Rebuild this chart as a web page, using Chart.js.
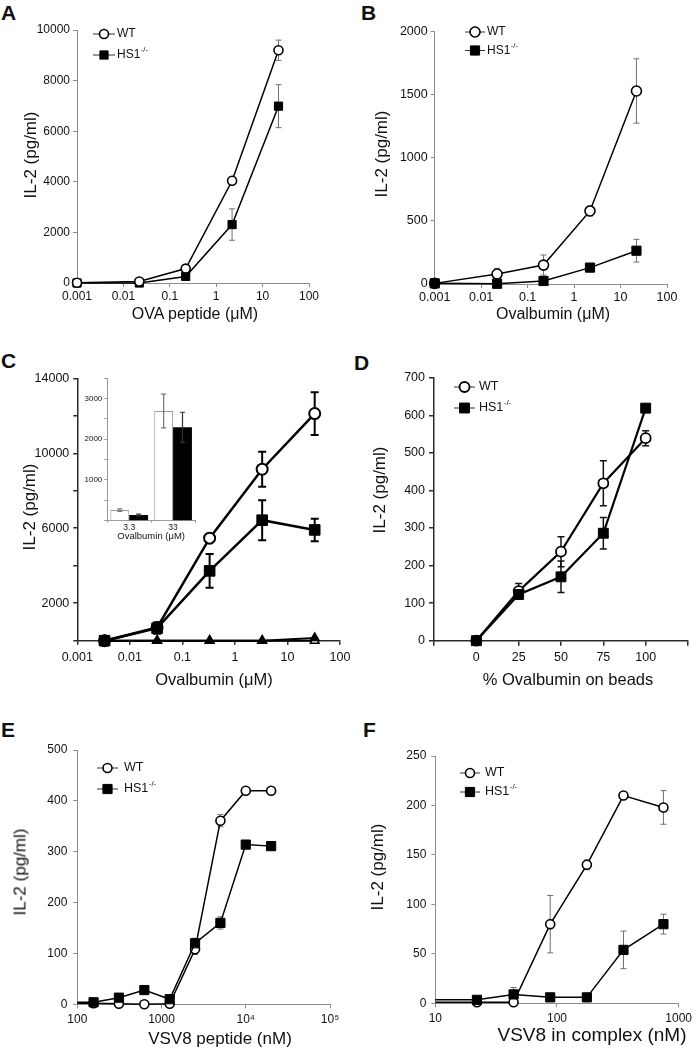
<!DOCTYPE html>
<html>
<head>
<meta charset="utf-8">
<title>IL-2 production, WT vs HS1-/-</title>
<script src="https://cdn.jsdelivr.net/npm/chart.js@4.4.1/dist/chart.umd.min.js"></script>
<style>
  body { margin: 0; background: #fff; }
  #fig { position: relative; width: 696px; height: 1050px; overflow: hidden;
         font-family: "Liberation Sans", Arial, Helvetica, sans-serif; color: #111; }
  #fig canvas { position: absolute; }
  .letter { position: absolute; font-weight: bold; font-size: 21px; line-height: 1; }
  .ttl { position: absolute; white-space: nowrap; line-height: 1; transform: translate(-50%, -50%); }
  .ttl.v { transform: translate(-50%, -50%) rotate(-90deg); }
</style>
</head>
<body>
<div id="fig">
  <div class="letter" style="left:1px;top:2px">A</div>
  <div class="letter" style="left:361px;top:2px">B</div>
  <div class="letter" style="left:1px;top:350px">C</div>
  <div class="letter" style="left:354px;top:352px">D</div>
  <div class="letter" style="left:1px;top:719px">E</div>
  <div class="letter" style="left:363px;top:719px">F</div>

  <canvas id="chartA" width="360" height="330" style="left:0;top:0"></canvas>
  <canvas id="chartB" width="348" height="330" style="left:348px;top:0"></canvas>
  <canvas id="chartC" width="370" height="355" style="left:0;top:340px"></canvas>
  <canvas id="chartD" width="348" height="355" style="left:348px;top:340px"></canvas>
  <canvas id="chartE" width="370" height="350" style="left:0;top:700px"></canvas>
  <canvas id="chartF" width="348" height="350" style="left:348px;top:700px"></canvas>
  <canvas id="chartCInset" width="160" height="177" style="left:50px;top:365px"></canvas>

  <div class="ttl" style="left:195px;top:314px;font-size:16px">OVA peptide (μM)</div>
  <div class="ttl v" style="left:30px;top:155px;font-size:17px">IL-2 (pg/ml)</div>
  <div class="ttl" style="left:553px;top:314px;font-size:16px">Ovalbumin (μM)</div>
  <div class="ttl v" style="left:381px;top:154px;font-size:17px">IL-2 (pg/ml)</div>
  <div class="ttl" style="left:214px;top:679px;font-size:16.5px">Ovalbumin (μM)</div>
  <div class="ttl v" style="left:29px;top:507px;font-size:17px">IL-2 (pg/ml)</div>
  <div class="ttl" style="left:568px;top:679px;font-size:16.5px">% Ovalbumin on beads</div>
  <div class="ttl v" style="left:379px;top:490px;font-size:17px">IL-2 (pg/ml)</div>
  <div class="ttl" style="left:220px;top:1038px;font-size:17px">VSV8 peptide (nM)</div>
  <div class="ttl v" style="left:20px;top:872px;font-size:17px">IL-2 (pg/ml)</div>
  <div class="ttl" style="left:592px;top:1034px;font-size:19px">VSV8 in complex (nM)</div>
  <div class="ttl v" style="left:377px;top:867px;font-size:17px">IL-2 (pg/ml)</div>
</div>

<script>
// A - OVA peptide
const aDose = [0.001, 0.022, 0.22, 2.2, 22];
const aWT = [10, 60, 570, 4040, 9200];
const aWTErr = [0, 50, 40, 60, 400];
const aKO = [0, 0, 260, 2310, 6990];
const aKOErr = [0, 0, 40, 620, 850];
const aXTicks = [0.001, 0.01, 0.1, 1, 10, 100];
const aXLabels = ['0.001', '0.01', '0.1', '1', '10', '100'];
const aYTicks = [0, 2000, 4000, 6000, 8000, 10000];

// B - ovalbumin
const bDose = [0.001, 0.022, 0.22, 2.2, 22];
const bWT = [5, 79, 150, 579, 1530];
const bWTErr = [0, 45, 80, 40, 255];
const bKO = [5, 2, 24, 130, 264];
const bKOErr = [0, 0, 0, 10, 90];
const bXTicks = [0.001, 0.01, 0.1, 1, 10, 100];
const bXLabels = ['0.001', '0.01', '0.1', '1', '10', '100'];
const bYTicks = [0, 500, 1000, 1500, 2000];

// C - ovalbumin, with controls (triangles)
const cDose = [0.0033, 0.033, 0.33, 3.3, 33];
const cWT = [0, 700, 5470, 9150, 12120];
const cWTErr = [0, 250, 200, 930, 1140];
const cKO = [0, 667, 3725, 6430, 5910];
const cKOErr = [0, 300, 900, 1070, 600];
const cWTCtrl = [0, 0, 0, 0, 0];
const cKOCtrl = [0, 0, 0, 0, 150];
const cXTicks = [0.001, 0.01, 0.1, 1, 10, 100];
const cXLabels = ['0.001', '0.01', '0.1', '1', '10', '100'];
const cYTicks = [0, 2000, 4000, 6000, 8000, 10000, 12000, 14000];
const cYLabels = ['', '2000', '', '6000', '', '10000', '', '14000'];

// C inset - bars
const insetDose = ['3.3', '33'];
const insetWT = [260, 2690];
const insetWTErr = [30, 415];
const insetKO = [140, 2290];
const insetKOErr = [20, 370];
const insetYTicks = [0, 500, 1000, 1500, 2000, 2500, 3000, 3500];
const insetYLabels = ['', '', '1000', '', '2000', '', '3000', ''];

// D - % ovalbumin on beads
const dPct = [0, 25, 50, 75, 100];
const dWT = [0, 132, 237, 419, 539];
const dWTErr = [0, 20, 40, 60, 20];
const dKO = [0, 123, 170, 286, 619];
const dKOErr = [0, 10, 42, 42, 0];
const dXTicks = [-25, 0, 25, 50, 75, 100, 125];
const dXLabels = ['', '0', '25', '50', '75', '100', ''];
const dYTicks = [0, 100, 200, 300, 400, 500, 600, 700];

// E - VSV8 peptide
const eDose = [78, 156, 312, 625, 1250, 2500, 5000, 10000, 20000];
const eWT = [2, 2, 1, 0, 1, 108, 361, 420, 420];
const eWTErr = [0, 0, 0, 0, 0, 10, 12, 4, 4];
const eKO = [4, 4, 13, 28, 10, 120, 160, 314, 311];
const eKOErr = [0, 0, 0, 0, 0, 10, 12, 0, 0];
const eXTicks = [100, 1000, 10000, 100000];
const eXLabels = ['100', '1000', '10⁴', '10⁵'];
const eYTicks = [0, 100, 200, 300, 400, 500];

// F - VSV8 in complex
const fDose = [5.5, 22, 44, 88, 176, 352, 750];
const fWT = [1, 1, 1, 80, 140, 210, 198];
const fWTErr = [0, 0, 6, 29, 5, 0, 17];
const fKO = [3.5, 3.5, 9, 6, 6, 54, 80];
const fKOErr = [0, 0, 7, 0, 0, 19, 10];
const fXTicks = [10, 100, 1000];
const fXLabels = ['10', '100', '1000'];
const fYTicks = [0, 50, 100, 150, 200, 250];

const FONT = '"Liberation Sans", Arial, Helvetica, sans-serif';
Chart.defaults.font.family = FONT;
Chart.defaults.color = '#111';

// error bars, drawn under the markers (or over bars in the inset)
function drawErrors(chart, o) {
    const ctx = chart.ctx;
    chart.data.datasets.forEach((ds, i) => {
        if (!ds.errors) return;
        const meta = chart.getDatasetMeta(i);
        const yScale = chart.scales[meta.yAxisID];
        meta.data.forEach((el, j) => {
            const e = ds.errors[j];
            if (!e) return;
            const raw = ds.data[j];
            const v = (raw !== null && typeof raw === 'object') ? raw.y : raw;
            const yTop = yScale.getPixelForValue(v + e);
            const yBot = yScale.getPixelForValue(Math.max(v - e, 0));
            const cap = o.cap || 3;
            ctx.save();
            ctx.strokeStyle = ds.errorColor || o.color || '#666';
            ctx.lineWidth = o.width || 1;
            ctx.beginPath();
            ctx.moveTo(el.x, yTop); ctx.lineTo(el.x, yBot);
            ctx.moveTo(el.x - cap, yTop); ctx.lineTo(el.x + cap, yTop);
            ctx.moveTo(el.x - cap, yBot); ctx.lineTo(el.x + cap, yBot);
            ctx.stroke();
            ctx.restore();
        });
    });
}

const errorBars = {
    id: 'errorBars',
    beforeDatasetsDraw(chart, args, o) { if (!o.after) drawErrors(chart, o); },
    afterDatasetsDraw(chart, args, o) { if (o.after) drawErrors(chart, o); }
};

function drawMarker(ctx, shape, r, x, y) {
    ctx.beginPath();
    if (shape === 'rect') {
        const h = r * Math.SQRT1_2;
        ctx.rect(x - h, y - h, 2 * h, 2 * h);
    } else {
        ctx.arc(x, y, r, 0, Math.PI * 2);
    }
    ctx.fill();
    ctx.stroke();
}

// "-o- WT" style legend
const lineLegend = {
    id: 'lineLegend',
    afterDatasetsDraw(chart, args, o) {
        if (!o.items) return;
        const ctx = chart.ctx;
        o.items.forEach((idx, row) => {
            const ds = chart.data.datasets[idx];
            const y = o.y + row * o.dy;
            ctx.save();
            ctx.strokeStyle = '#333';
            ctx.lineWidth = 1;
            ctx.beginPath();
            ctx.moveTo(o.x, y);
            ctx.lineTo(o.x + o.len, y);
            ctx.stroke();
            ctx.strokeStyle = '#000';
            ctx.fillStyle = ds.pointBackgroundColor;
            ctx.lineWidth = ds.pointBorderWidth;
            drawMarker(ctx, ds.pointStyle, ds.pointRadius, o.x + o.len / 2, y);
            ctx.fillStyle = '#111';
            ctx.font = o.font + 'px ' + FONT;
            ctx.textBaseline = 'middle';
            const tx = o.x + o.len + o.gap;
            ctx.fillText(ds.label, tx, y);
            if (ds.sup) {
                const w = ctx.measureText(ds.label).width;
                ctx.font = (o.font * 0.62) + 'px ' + FONT;
                ctx.fillText(ds.sup, tx + w + 0.5, y - o.font * 0.38);
            }
            ctx.restore();
        });
    }
};

function series(label, sup, xs, ys, errs, look) {
    return {
        label: label,
        sup: sup,
        data: xs.map((x, i) => ({ x: x, y: ys[i] })),
        errors: errs,
        borderColor: '#000',
        borderWidth: look.lw,
        pointStyle: look.shape,
        pointRadius: look.r,
        pointHoverRadius: look.r,
        pointBorderWidth: look.pb,
        pointBackgroundColor: look.fill,
        pointBorderColor: '#000',
        order: look.order,
        tension: 0,
        clip: look.clip === undefined ? false : look.clip
    };
}

function axis(type, min, max, ticks, labels, s, horizontal) {
    return {
        type: type,
        min: min,
        max: max,
        afterBuildTicks: scale => { scale.ticks = ticks.map(v => ({ value: v })); },
        afterFit: scale => {
            if (horizontal) scale.height = s.xH; else scale.width = s.yW;
        },
        ticks: {
            autoSkip: false,
            maxRotation: 0,
            padding: horizontal ? s.xPad : s.yPad,
            font: { size: s.font },
            callback: (v, i) => labels[i]
        },
        grid: { drawOnChartArea: false, tickLength: s.tl, color: s.axisColor, lineWidth: s.axisWidth },
        border: { color: s.axisColor, width: s.axisWidth }
    };
}

function linePanel(id, s, datasets, xAxis, yAxis, legend) {
    return new Chart(document.getElementById(id), {
        type: 'line',
        data: { datasets: datasets },
        options: {
            responsive: false,
            animation: false,
            events: [],
            layout: { padding: { top: s.padTop, right: s.padRight, left: 0, bottom: 0 } },
            plugins: {
                legend: { display: false },
                tooltip: { enabled: false },
                errorBars: s.err,
                lineLegend: legend || {}
            },
            scales: { x: xAxis, y: yAxis }
        },
        plugins: [errorBars, lineLegend]
    });
}

const greyErr = { color: '#707070', width: 1, cap: 3 };

// A
const sA = { yW: 77, xH: 47, padTop: 30, padRight: 51, font: 12, tl: 4, xPad: 2, yPad: 3,
             axisColor: '#8c8c8c', axisWidth: 1, err: greyErr };
linePanel('chartA', sA, [
    series('WT', '', aDose, aWT, aWTErr, { shape: 'circle', r: 4.5, pb: 1.6, fill: '#fff', lw: 1.5, order: 0 }),
    series('HS1', '-/-', aDose, aKO, aKOErr, { shape: 'rect', r: 5.8, pb: 1, fill: '#000', lw: 1.5, order: 1 })
], axis('logarithmic', 0.001, 100, aXTicks, aXLabels, sA, true),
   axis('linear', 0, 10000, aYTicks, aYTicks.map(String), sA, false),
   { items: [0, 1], x: 93, y: 34, dy: 21, len: 22, gap: 2, font: 12 });

// B
const sB = { yW: 86.7, xH: 46, padTop: 31.7, padRight: 29, font: 12.5, tl: 4, xPad: 2, yPad: 3,
             axisColor: '#8c8c8c', axisWidth: 1, err: greyErr };
linePanel('chartB', sB, [
    series('WT', '', bDose, bWT, bWTErr, { shape: 'circle', r: 5, pb: 1.6, fill: '#fff', lw: 1.5, order: 1 }),
    series('HS1', '-/-', bDose, bKO, bKOErr, { shape: 'rect', r: 6.5, pb: 1, fill: '#000', lw: 1.5, order: 0 })
], axis('logarithmic', 0.001, 100, bXTicks, bXLabels, sB, true),
   axis('linear', 0, 2000, bYTicks, bYTicks.map(String), sB, false),
   { items: [0, 1], x: 117, y: 32, dy: 18.5, len: 20, gap: 2, font: 12 });

// C
const sC = { yW: 77.3, xH: 54.3, padTop: 38.3, padRight: 30, font: 12.5, tl: 4, xPad: 5, yPad: 4,
             axisColor: '#2a2a2a', axisWidth: 1.5, err: { color: '#000', width: 2, cap: 4 } };
linePanel('chartC', sC, [
    series('WT', '', cDose, cWT, cWTErr, { shape: 'circle', r: 5.5, pb: 2, fill: '#fff', lw: 2.5, order: 1 }),
    series('HS1', '-/-', cDose, cKO, cKOErr, { shape: 'rect', r: 7.5, pb: 1, fill: '#000', lw: 2.5, order: 0 }),
    series('WT control', '', cDose, cWTCtrl, null, { shape: 'triangle', r: 5, pb: 1.5, fill: '#fff', lw: 2, order: 3 }),
    series('HS1 control', '', cDose, cKOCtrl, null, { shape: 'triangle', r: 5, pb: 1.5, fill: '#000', lw: 2, order: 2 })
], axis('logarithmic', 0.001, 100, cXTicks, cXLabels, sC, true),
   axis('linear', 0, 14000, cYTicks, cYLabels, sC, false));

// C inset
new Chart(document.getElementById('chartCInset'), {
    type: 'bar',
    data: {
        labels: insetDose,
        datasets: [
            { label: 'WT', data: insetWT, errors: insetWTErr, errorColor: '#777',
              backgroundColor: '#fff', borderColor: '#999', borderWidth: 1,
              categoryPercentage: 0.86, barPercentage: 1 },
            { label: 'HS1-/-', data: insetKO, errors: insetKOErr, errorColor: '#333',
              backgroundColor: '#000', borderColor: '#000', borderWidth: 0,
              categoryPercentage: 0.86, barPercentage: 1 }
        ]
    },
    options: {
        responsive: false,
        animation: false,
        events: [],
        layout: { padding: { top: 13, right: 15, left: 0, bottom: 0 } },
        plugins: {
            legend: { display: false },
            tooltip: { enabled: false },
            errorBars: { after: true, width: 1.2, cap: 2.5 }
        },
        scales: {
            x: {
                afterFit: scale => { scale.height = 21.3; },
                grid: { offset: true, drawOnChartArea: false, tickLength: 2, color: '#999' },
                border: { color: '#999' },
                ticks: { padding: 0, font: { size: 8.5 } },
                title: { display: true, text: 'Ovalbumin (μM)', font: { size: 9.5 }, padding: 0 }
            },
            y: {
                min: 0,
                max: 3500,
                afterBuildTicks: scale => { scale.ticks = insetYTicks.map(v => ({ value: v })); },
                afterFit: scale => { scale.width = 57.3; },
                grid: { drawOnChartArea: false, tickLength: 3, color: '#999' },
                border: { color: '#999' },
                ticks: { padding: 2, font: { size: 8 }, callback: (v, i) => insetYLabels[i] }
            }
        }
    },
    plugins: [errorBars]
});

// D
const sD = { yW: 86, xH: 54.3, padTop: 37.7, padRight: 1.3, font: 12.5, tl: 5, xPad: 4, yPad: 4,
             axisColor: '#2a2a2a', axisWidth: 1.5, err: { color: '#111', width: 1.5, cap: 3.5 } };
linePanel('chartD', sD, [
    series('WT', '', dPct, dWT, dWTErr, { shape: 'circle', r: 5, pb: 1.8, fill: '#fff', lw: 2.2, order: 1 }),
    series('HS1', '-/-', dPct, dKO, dKOErr, { shape: 'rect', r: 7, pb: 1, fill: '#000', lw: 2.2, order: 0 })
], axis('linear', -25, 125, dXTicks, dXLabels, sD, true),
   axis('linear', 0, 700, dYTicks, dYTicks.map(String), sD, false),
   { items: [0, 1], x: 106, y: 47, dy: 21, len: 21, gap: 4, font: 12.5 });

// E
const edgeClip = { left: 0, top: false, right: false, bottom: false };
const sE = { yW: 77.3, xH: 45.7, padTop: 50, padRight: 40, font: 12, tl: 4, xPad: 4, yPad: 6,
             axisColor: '#8c8c8c', axisWidth: 1, err: greyErr };
linePanel('chartE', sE, [
    series('WT', '', eDose, eWT, eWTErr, { shape: 'circle', r: 4.5, pb: 1.6, fill: '#fff', lw: 1.5, order: 1, clip: edgeClip }),
    series('HS1', '-/-', eDose, eKO, eKOErr, { shape: 'rect', r: 6.5, pb: 1, fill: '#000', lw: 1.5, order: 0, clip: edgeClip })
], axis('logarithmic', 100, 100000, eXTicks, eXLabels, sE, true),
   axis('linear', 0, 500, eYTicks, eYTicks.map(String), sE, false),
   { items: [0, 1], x: 97, y: 68, dy: 21, len: 21, gap: 6, font: 12.5 });

// F
const sF = { yW: 87.3, xH: 46.7, padTop: 56, padRight: 17.3, font: 12, tl: 4, xPad: 4, yPad: 5,
             axisColor: '#8c8c8c', axisWidth: 1, err: greyErr };
linePanel('chartF', sF, [
    series('WT', '', fDose, fWT, fWTErr, { shape: 'circle', r: 4.5, pb: 1.6, fill: '#fff', lw: 1.5, order: 1, clip: edgeClip }),
    series('HS1', '-/-', fDose, fKO, fKOErr, { shape: 'rect', r: 6.5, pb: 1, fill: '#000', lw: 1.5, order: 0, clip: edgeClip })
], axis('logarithmic', 10, 1000, fXTicks, fXLabels, sF, true),
   axis('linear', 0, 250, fYTicks, fYTicks.map(String), sF, false),
   { items: [0, 1], x: 112, y: 73, dy: 19, len: 20, gap: 5, font: 12.5 });
</script>
</body>
</html>
